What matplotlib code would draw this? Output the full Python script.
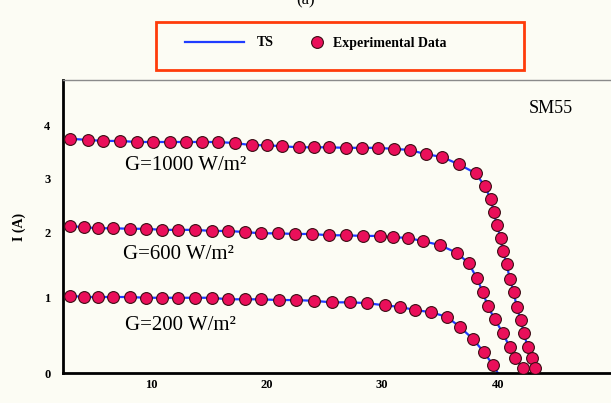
import numpy as np
import matplotlib
matplotlib.use('Agg')
import matplotlib.pyplot as plt
from matplotlib.patches import Rectangle
from matplotlib.lines import Line2D

plt.rcParams['font.family'] = ['Liberation Serif', 'DejaVu Serif']

# SM55 module, I-V curves at three irradiance levels
v_1000 = [3.00, 4.55, 5.85, 7.32, 8.79, 10.17, 11.64, 13.02, 14.41, 15.79, 17.26,
          18.73, 20.02, 21.32, 22.79, 24.09, 25.38, 26.85, 28.24, 29.62, 31.00,
          32.39, 33.77, 35.15, 36.62, 38.09, 38.87, 39.39, 39.65, 39.91, 40.25,
          40.42, 40.77, 41.03, 41.38, 41.63, 41.98, 42.24, 42.59, 42.93, 43.19]
i_1000 = [3.74, 3.72, 3.70, 3.70, 3.68, 3.68, 3.68, 3.68, 3.68, 3.68, 3.66,
          3.62, 3.62, 3.60, 3.58, 3.58, 3.58, 3.57, 3.57, 3.57, 3.55,
          3.53, 3.45, 3.40, 3.26, 3.09, 2.85, 2.61, 2.37, 2.13, 1.91,
          1.71, 1.51, 1.28, 1.08, 0.87, 0.70, 0.53, 0.34, 0.20, 0.07]

v_600 = [3.00, 4.21, 5.42, 6.72, 8.18, 9.57, 10.95, 12.33, 13.80, 15.27, 16.65,
         18.12, 19.51, 20.98, 22.45, 23.91, 25.38, 26.85, 28.32, 29.79, 30.92,
         32.21, 33.51, 34.98, 36.45, 37.49, 38.18, 38.70, 39.13, 39.73, 40.42,
         41.03, 41.46, 42.15]
i_600 = [2.11, 2.09, 2.07, 2.07, 2.06, 2.06, 2.04, 2.04, 2.04, 2.02, 2.02,
         2.00, 1.98, 1.98, 1.97, 1.97, 1.95, 1.95, 1.94, 1.94, 1.92,
         1.91, 1.86, 1.80, 1.68, 1.52, 1.29, 1.08, 0.88, 0.71, 0.53,
         0.34, 0.20, 0.07]

v_200 = [3.00, 4.21, 5.42, 6.72, 8.18, 9.57, 10.95, 12.33, 13.80, 15.27, 16.65,
         18.12, 19.51, 21.06, 22.53, 24.09, 25.64, 27.20, 28.67, 30.22, 31.52,
         32.82, 34.20, 35.58, 36.70, 37.83, 38.78, 39.56]
i_200 = [1.02, 1.00, 1.00, 1.00, 1.00, 0.99, 0.99, 0.99, 0.99, 0.99, 0.97,
         0.97, 0.97, 0.96, 0.96, 0.95, 0.93, 0.93, 0.92, 0.89, 0.87,
         0.83, 0.80, 0.74, 0.61, 0.45, 0.28, 0.11]

# open-circuit voltages where the TS model reaches zero current
voc = {'1000': 43.45, '600': 42.4, '200': 40.0}

curve_labels = ['G=1000 W/m²', 'G=600 W/m²', 'G=200 W/m²']
x_ticks = [10, 20, 30, 40]
y_ticks = [0, 1, 2, 3, 4]

# the current axis in this figure is not evenly spaced
knot_i = [-1, 0, 1, 2, 3, 4, 6]
knot_px = [-76, 0, 76, 141, 195, 248, 354]


def fwd(y):
    return np.interp(y, knot_i, knot_px)


def inv(p):
    return np.interp(p, knot_px, knot_i)


bg = '#fcfcf4'
blue = '#1f3cff'
pink = '#ea0f5a'
edge = '#3a0d14'

fig = plt.figure(figsize=(6.11, 4.03), dpi=100, facecolor=bg)
ax = fig.add_axes([63 / 611, 30 / 403, (640 - 63) / 611, (373 - 80) / 403])
ax.set_facecolor(bg)
ax.set_yscale('function', functions=(fwd, inv))

curves = [(v_1000, i_1000, voc['1000']), (v_600, i_600, voc['600']), (v_200, i_200, voc['200'])]
for v, i, vo in curves:
    vl = [0.0] + v + [vo]
    il = [i[0]] + i + [0.0]
    ax.plot(vl, il, color=blue, lw=1.6, zorder=2)
    ax.plot(v, i, ls='none', marker='o', ms=8.5, mfc=pink, mec=edge, mew=0.8, zorder=3)

ax.set_xlim(2.4, 52.3)
ax.set_ylim(0, 4.85)
ax.set_xticks(x_ticks)
ax.set_yticks(y_ticks)
ax.set_xticklabels([str(t) for t in x_ticks], fontsize=9, fontweight='bold')
ax.set_yticklabels([str(t) for t in y_ticks], fontsize=9, fontweight='bold')
ax.tick_params(axis='both', length=0)
ax.tick_params(axis='x', pad=4)
ax.tick_params(axis='y', pad=9)
ax.minorticks_off()

for s in ['left', 'bottom']:
    ax.spines[s].set_linewidth(2.0)
    ax.spines[s].set_color('black')
ax.spines['top'].set_color('#8a8a8a')
ax.spines['top'].set_linewidth(1.0)
ax.spines['right'].set_visible(False)

ax.set_ylabel('I (A)', fontsize=10, fontweight='bold', labelpad=13)

ax.text(7.75, 3.23, curve_labels[0], fontsize=15, ha='left', va='center')
ax.text(7.58, 1.65, curve_labels[1], fontsize=15, ha='left', va='center')
ax.text(7.75, 0.63, curve_labels[2], fontsize=15, ha='left', va='center')
ax.text(42.7, 4.32, 'SM55', fontsize=13, ha='left', va='center')

# legend box above the axes
W, H = 611, 403
fig.patches.append(Rectangle((156 / W, 1 - 70 / H), (524 - 156) / W, 48 / H,
                             transform=fig.transFigure, fill=False,
                             edgecolor='#ff3c0a', lw=2.0))
ts_handle = Line2D([], [], color=blue, lw=1.6)
exp_handle = Line2D([], [], ls='none', marker='o', ms=8.5, mfc=pink, mec=edge, mew=0.8)
leg_font = {'weight': 'bold', 'size': 10}
fig.legend([ts_handle], ['TS'], loc='center left', bbox_to_anchor=(172 / W, 1 - 43 / H),
           frameon=False, handlelength=4.3, handletextpad=0.9, prop=leg_font)
fig.legend([exp_handle], ['Experimental Data'], loc='center left',
           bbox_to_anchor=(298 / W, 1 - 43 / H), frameon=False,
           handlelength=1.0, handletextpad=0.6, prop=leg_font)

fig.text(0.5, 1.0, '(a)', fontsize=12, ha='center', va='center')

fig.savefig('out.png', dpi=100, facecolor=bg)
